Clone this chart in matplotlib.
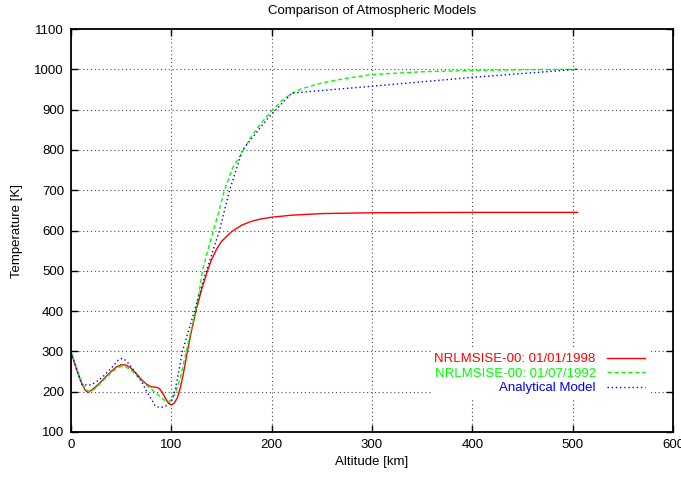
import matplotlib
matplotlib.use("Agg")
import matplotlib.pyplot as plt

# NRLMSISE-00, 01/01/1998
alt_1998 = [0, 3, 6, 10, 14, 17, 20, 25, 30, 35, 40, 45, 50, 55, 60, 65, 70,
            75, 80, 85, 88, 91, 94, 97, 100, 103, 106, 109, 112, 116, 120, 125,
            130, 136, 140, 145, 150, 160, 170, 180, 190, 200, 220, 250, 300,
            400, 505]
temp_1998 = [298, 275, 252, 225, 204, 198, 203, 213, 225, 238, 250, 261, 267,
             266, 258, 245, 231, 219, 212, 211, 208, 198, 184, 172, 167, 172,
             185, 210, 245, 300, 350, 405, 452, 500, 527, 553, 573, 597, 613,
             623, 629, 633, 638, 642, 644, 645, 645]

# NRLMSISE-00, 01/07/1992
alt_1992 = [0, 3, 6, 10, 14, 18, 22, 25, 30, 35, 40, 45, 50, 55, 60, 65, 70,
            75, 80, 85, 90, 94, 97, 100, 103, 106, 110, 114, 118, 121, 124, 128,
            131, 136, 142, 147, 153, 161, 172, 180, 190, 200, 210, 220, 230,
            250, 275, 300, 350, 400, 450, 505]
temp_1992 = [300, 278, 255, 228, 208, 200, 204, 210, 222, 235, 247, 257, 263,
             261, 253, 241, 228, 216, 207, 196, 185, 177, 175, 180, 193, 210,
             245, 290, 335, 365, 400, 452, 500, 548, 600, 645, 700, 755, 800,
             835, 868, 897, 922, 940, 952, 966, 978, 987, 994, 997, 999, 1000]

# analytical model
alt_model = [0, 4, 8, 11, 20, 25, 32, 40, 47, 51, 55, 60, 65, 71, 76, 81, 84,
             88, 92, 96, 100, 104, 111, 117, 123, 135, 148, 158, 171, 195, 220,
             300, 400, 505]
temp_model = [298, 268, 238, 217, 217, 224, 238, 258, 278, 283, 277, 262, 245,
              222, 198, 178, 164, 161, 162, 166, 176, 205, 300, 350, 400, 500,
              600, 700, 800, 875, 941, 958, 980, 1000]

plt.rcParams['font.family'] = ['Liberation Sans', 'DejaVu Sans']
plt.rcParams['font.size'] = 9.5

fig = plt.figure(figsize=(6.81, 4.78), dpi=100)
ax = fig.add_axes([71 / 681, 1 - 432 / 478, 602 / 681, 403 / 478])

ax.plot(alt_1998, temp_1998, color='red', lw=1.0,
        label='NRLMSISE-00: 01/01/1998')
ax.plot(alt_1992, temp_1992, color='#00ff00', lw=1.0, dashes=(3, 2),
        label='NRLMSISE-00: 01/07/1992')
ax.plot(alt_model, temp_model, color='blue', lw=1.0, dashes=(1, 2),
        label='Analytical Model')

ax.set_xlim(0, 600)
ax.set_ylim(100, 1100)
ax.set_xticks(range(0, 601, 100))
ax.set_yticks(range(100, 1101, 100))
ax.grid(True, color='0.3', lw=0.8, linestyle=(0, (1, 2.5)))
ax.tick_params(direction='in', top=True, right=True, length=5, width=1, pad=5)
for s in ax.spines.values():
    s.set_linewidth(1.3)

ax.set_title('Comparison of Atmospheric Models', fontsize=9.5, pad=11)
ax.set_xlabel('Altitude [km]', labelpad=4)
ax.set_ylabel('Temperature [K]', labelpad=8)

leg = ax.legend(loc='upper right', bbox_to_anchor=(0.960, 0.206),
                markerfirst=False, labelcolor='linecolor', handlelength=2.9,
                handletextpad=0.83, labelspacing=0.18, borderpad=0.3,
                borderaxespad=0, fancybox=False, framealpha=1)
leg.get_frame().set_edgecolor('none')

fig.savefig('out.png', dpi=100)
